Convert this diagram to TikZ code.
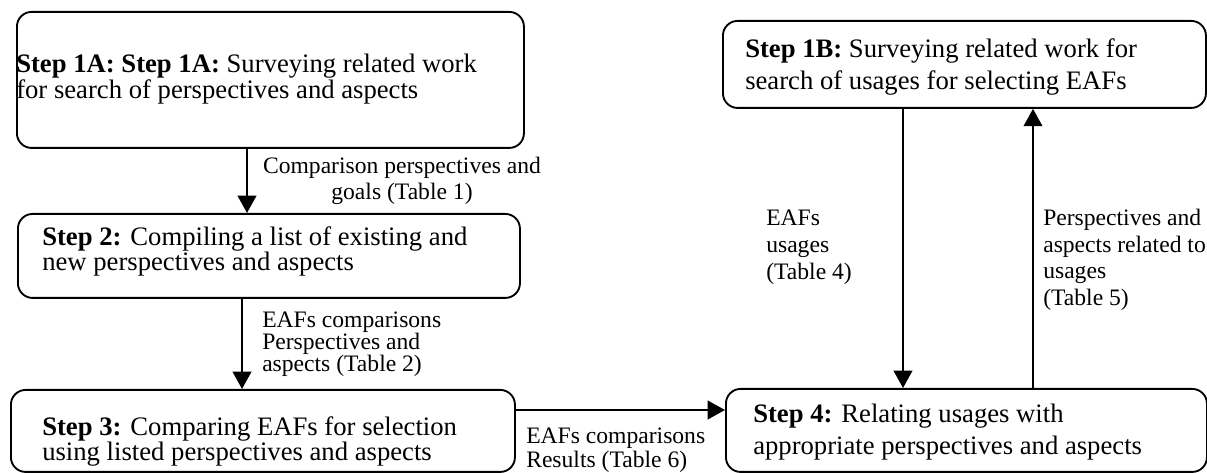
\documentclass[tikz,border=0pt]{standalone}
\usepackage{fontspec}
\setmainfont{Liberation Serif}
\usetikzlibrary{arrows.meta}
\begin{document}
\begin{tikzpicture}[x=0.75pt,y=-0.75pt,
  stepbox/.style={draw, line width=1.4pt, rounded corners=11pt, anchor=north west, inner sep=0pt},
  steptext/.style={anchor=north west, align=left, inner sep=0pt},
  tight/.style={font=\fontsize{20}{16.5}\selectfont},
  loose/.style={font=\fontsize{20}{24}\selectfont},
  lbl/.style={inner sep=0pt, anchor=north west, align=left},
  arr/.style={line width=1.4pt, -{Triangle[width=14pt,length=13pt]}}]
\useasboundingbox (0,0) rectangle (1207,473);

\node[stepbox, minimum width=380.25pt, minimum height=102pt] (b1a) at (16,11) {};
\node[stepbox, minimum width=376.5pt, minimum height=63pt] (b2) at (17,213) {};
\node[stepbox, minimum width=378pt, minimum height=61.5pt] (b3) at (10,389) {};
\node[stepbox, minimum width=360.75pt, minimum height=62.25pt] (b4) at (725,388) {};
\node[stepbox, minimum width=362.25pt, minimum height=65.25pt] (b1b) at (722,20) {};

\node[steptext, tight] (t1a) at (16,54)
  {\textbf{Step 1A: Step 1A:} Surveying related work\\for search of perspectives and aspects};
\node[steptext, tight] (t2) at (42,226)
  {\textbf{Step 2:} Compiling a list of existing and\\new perspectives and aspects};
\node[steptext, tight] (t3) at (42,416)
  {\textbf{Step 3:} Comparing EAFs for selection\\using listed perspectives and aspects};
\node[steptext, loose] (t4) at (753,404)
  {\textbf{Step 4:} Relating usages with\\appropriate perspectives and aspects};
\node[steptext, loose] (t1b) at (745,38)
  {\textbf{Step 1B:} Surveying related work for\\search of usages for selecting EAFs};

\node[lbl, anchor=north, align=center, font=\fontsize{17.7}{19.5}\selectfont] (l1) at (402,157)
  {Comparison perspectives and\\goals (Table 1)};
\node[lbl, font=\fontsize{17.7}{16.5}\selectfont] (l2) at (262,312)
  {EAFs comparisons\\Perspectives and\\aspects (Table 2)};
\node[lbl, font=\fontsize{17.7}{17.5}\selectfont] (l3) at (526,428)
  {EAFs comparisons\\Results (Table 6)};
\node[lbl, font=\fontsize{17.7}{20}\selectfont] (l4) at (766,210)
  {EAFs\\usages\\(Table 4)};
\node[lbl, font=\fontsize{17.7}{20}\selectfont] (l5) at (1043,209)
  {Perspectives and\\aspects related to\\usages\\(Table 5)};

\coordinate (c12) at (247,0);
\coordinate (c23) at (242,0);
\coordinate (c34) at (0,410);
\coordinate (c14) at (903,0);
\coordinate (c41) at (1033,0);
\draw[arr] (c12 |- b1a.south) -- (c12 |- b2.north);
\draw[arr] (c23 |- b2.south) -- (c23 |- b3.north);
\draw[arr] (b3.east |- c34) -- (b4.west |- c34);
\draw[arr] (c14 |- b1b.south) -- (c14 |- b4.north);
\draw[arr] (c41 |- b4.north) -- (c41 |- b1b.south);
\end{tikzpicture}
\end{document}
